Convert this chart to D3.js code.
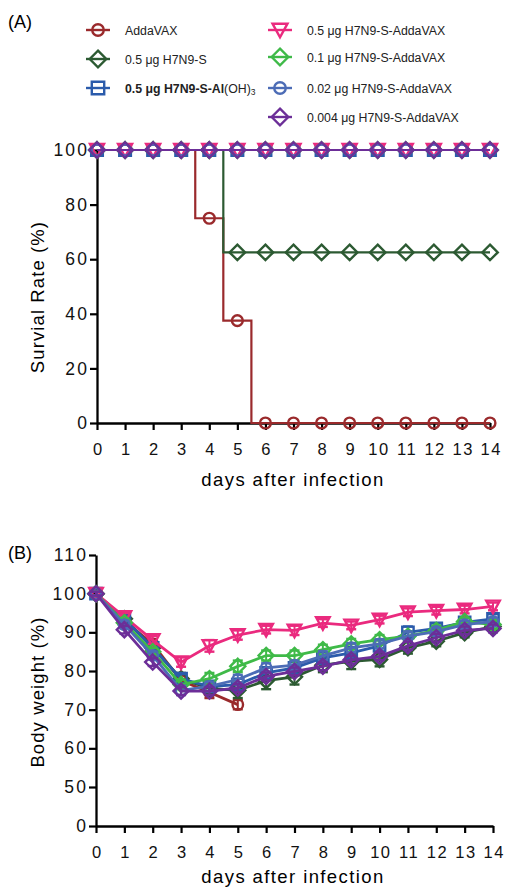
<!DOCTYPE html>
<html><head><meta charset="utf-8">
<script src="https://cdn.jsdelivr.net/npm/d3@7"></script>
<style>
body{margin:0;background:#fff;}
svg{display:block;font-family:"Liberation Sans",Arial,sans-serif;}
</style></head>
<body><svg id="c" width="505" height="887"></svg>
<script>
const days=d3.range(0,15);
const names=['AddaVAX','0.5 μg H7N9-S','0.5 μg H7N9-S-Al(OH)3','0.5 μg H7N9-S-AddaVAX','0.1 μg H7N9-S-AddaVAX','0.02 μg H7N9-S-AddaVAX','0.004 μg H7N9-S-AddaVAX'];
const colors=['#9a2a2c','#2c5a32','#2b5bab','#ea2a7e','#3fba48','#4c6cb6','#6c2e98'];
const shapes=['circle','diamond','square','triangleDown','diamond','circle','diamond'];

// survival (%) per day
const surv=[
  [100,100,100,100,75,37.5,0,0,0,0,0,0,0,0,0],
  [100,100,100,100,100,62.5,62.5,62.5,62.5,62.5,62.5,62.5,62.5,62.5,62.5],
  [100,100,100,100,100,100,100,100,100,100,100,100,100,100,100],
  [100,100,100,100,100,100,100,100,100,100,100,100,100,100,100],
  [100,100,100,100,100,100,100,100,100,100,100,100,100,100,100],
  [100,100,100,100,100,100,100,100,100,100,100,100,100,100,100],
  [100,100,100,100,100,100,100,100,100,100,100,100,100,100,100]
];
// body weight (%) mean per day
const weight=[
  [100,93,87,77.5,74.5,71.3],
  [100,93.5,86,78,75.5,75,77.5,78.5,81.5,82.5,83,86,87.7,89.9,91.5],
  [100,93.5,86,78,76,76.5,79.5,80.8,83.4,84.7,86.5,90,91,92.6,93.5],
  [100,94,88,82.3,86.5,89.3,90.7,90.5,92.4,91.8,93.3,95.2,95.6,95.9,96.7],
  [100,92.5,85,76.5,78,81.2,84,84,85.5,87,88.1,89,90.5,92.8,92],
  [100,92,84,75,76,77.8,80.8,81.5,83.9,86,87,89,90.2,92,92.8],
  [100,90.7,82.3,74.8,74.8,75.6,78.6,79.9,81.2,82.9,83.8,86.5,88.6,90.5,91]
];
// body weight SEM
const sem=[
  [0.5,1,1.2,1.5,1.5,1.2],
  [0.5,1,1.2,1.5,1.5,2,2.2,2,1.8,2,1.8,1.5,1.3,1.2,1],
  [0.5,1,1,1.2,1.2,1.5,1.5,1.5,1.5,1.5,1.5,1.5,1.3,1.2,1.2],
  [0.5,1,1,1.2,1.5,1.2,1,1.2,1,1,1,1,1,1,1],
  [0.5,1,1,1.2,1.5,1.5,1.3,1.3,1.3,1.3,1.2,1.2,1.2,1,1],
  [0.5,1,1,1.2,1.2,1.2,1.2,1.2,1.2,1.2,1.2,1.2,1,1,1],
  [0.5,1,1,1,1,1,1,1,1,1,1,1,1,1,1]
];
const survTicks=[0,20,40,60,80,100];
const wTicks=[0,50,60,70,80,90,100,110];

const svg=d3.select('#c');

function sym(g,shape,x,y,col,s){
  s=s||1;
  let p;
  if(shape==='circle'){ g.append('circle').attr('cx',x).attr('cy',y).attr('r',5*s).attr('fill','none').attr('stroke',col).attr('stroke-width',2.4); return; }
  if(shape==='diamond'){ const h=7.2*s; p=`M${x},${y-h}L${x+h},${y}L${x},${y+h}L${x-h},${y}Z`; }
  if(shape==='square'){ const h=5.4*s; p=`M${x-h},${y-h}H${x+h}V${y+h}H${x-h}Z`; }
  if(shape==='triangleDown'){ const w=6.5*s,h=5.5*s; p=`M${x-w},${y-h}H${x+w}L${x},${y+h+1}Z`; }
  g.append('path').attr('d',p).attr('fill','none').attr('stroke',col).attr('stroke-width',2.4).attr('stroke-linejoin','miter');
}
function styleAxis(g,fs,ls,bottom){
  g.select('.domain').attr('stroke-width',2.3);
  g.selectAll('.tick line').attr('stroke-width',2.2);
  const t=g.selectAll('text').attr('font-size',fs).attr('font-family','Liberation Sans,Arial').attr('letter-spacing',ls).attr('fill','#111');
  if(bottom) t.attr('dy',null).attr('y',32).attr('dx',ls/2);
  else t.attr('dx',ls);
}

/* ---------- legend ---------- */
svg.append('text').attr('x',8).attr('y',28).attr('font-size',18).text('(A)');
const gLeg=svg.append('g');
const legPos=[[98,30],[98,59],[98,88],[280,30],[280,57],[280,88],[280,117]];
names.forEach((n,i)=>{
  const [x,y]=legPos[i];
  gLeg.append('line').attr('x1',x-12).attr('x2',x+12).attr('y1',y).attr('y2',y).attr('stroke',colors[i]).attr('stroke-width',2.4);
  sym(gLeg,shapes[i],x,y,colors[i],1.15);
  const t=gLeg.append('text').attr('x',x+27).attr('y',y+4.5).attr('font-size',12.3).attr('fill','#222');
  if(i===2){
    t.append('tspan').attr('font-weight','bold').text('0.5 μg H7N9-S-Al');
    t.append('tspan').text('(OH)');
    t.append('tspan').attr('font-size',8.5).attr('dy',2).text('3');
  } else t.text(n);
});

/* ---------- panel A ---------- */
const xA=d3.scaleLinear().domain([0,14]).range([97,490]);
const yA=d3.scaleLinear().domain([0,100]).range([423,150]);
const gA=svg.append('g');
gA.append('g').attr('transform','translate(97,0)')
  .call(d3.axisLeft(yA).tickValues(survTicks).tickSize(7).tickSizeOuter(0))
  .call(g=>styleAxis(g,17.5,2.2,false));
gA.append('g').attr('transform','translate(0,423)')
  .call(d3.axisBottom(xA).tickValues(days).tickSize(7).tickSizeOuter(0))
  .call(g=>styleAxis(g,16.5,1.5,true));
gA.append('text').attr('transform','translate(44,297) rotate(-90)').attr('text-anchor','middle').attr('font-size',18.5).attr('letter-spacing',1.1).text('Survial Rate (%)');
gA.append('text').attr('x',293).attr('y',486).attr('text-anchor','middle').attr('font-size',18.5).attr('letter-spacing',1.4).text('days after infection');

const stepLine=d3.line().x((d,i)=>xA(days[i])).y(d=>yA(d)).curve(d3.curveStep);
surv.forEach((s,k)=>{
  const g=gA.append('g');
  g.append('path').attr('d',stepLine(s)).attr('fill','none').attr('stroke',colors[k]).attr('stroke-width',2.2);
  s.forEach((v,i)=>sym(g,shapes[k],xA(days[i]),yA(v),colors[k],1.08));
});

/* ---------- panel B ---------- */
svg.append('text').attr('x',8).attr('y',559).attr('font-size',18).text('(B)');
const xB=d3.scaleLinear().domain([0,14]).range([96,493]);
const yB=d3.scaleLinear().domain([0,50,110]).range([826,787,555]);
const gB=svg.append('g');
gB.append('g').attr('transform','translate(96,0)')
  .call(d3.axisLeft(yB).tickValues(wTicks).tickSize(7).tickSizeOuter(0))
  .call(g=>styleAxis(g,17.5,2.2,false));
gB.append('g').attr('transform','translate(0,826)')
  .call(d3.axisBottom(xB).tickValues(days).tickSize(7).tickSizeOuter(0))
  .call(g=>styleAxis(g,16.5,1.5,true));
gB.append('text').attr('transform','translate(44,692) rotate(-90)').attr('text-anchor','middle').attr('font-size',18.5).attr('letter-spacing',1.1).text('Body weight (%)');
gB.append('text').attr('x',293).attr('y',883).attr('text-anchor','middle').attr('font-size',18.5).attr('letter-spacing',1.4).text('days after infection');

const wLine=d3.line().x((d,i)=>xB(days[i])).y(d=>yB(d));
weight.forEach((s,k)=>{
  const g=gB.append('g');
  s.forEach((v,i)=>{
    const x=xB(days[i]),e=sem[k][i];
    g.append('line').attr('x1',x).attr('x2',x).attr('y1',yB(v-e)).attr('y2',yB(v+e)).attr('stroke',colors[k]).attr('stroke-width',2);
    [v-e,v+e].forEach(u=>g.append('line').attr('x1',x-5).attr('x2',x+5).attr('y1',yB(u)).attr('y2',yB(u)).attr('stroke',colors[k]).attr('stroke-width',2.4));
  });
  g.append('path').attr('d',wLine(s)).attr('fill','none').attr('stroke',colors[k]).attr('stroke-width',2.8);
  s.forEach((v,i)=>sym(g,shapes[k],xB(days[i]),yB(v),colors[k],1.05));
});
</script></body></html>
